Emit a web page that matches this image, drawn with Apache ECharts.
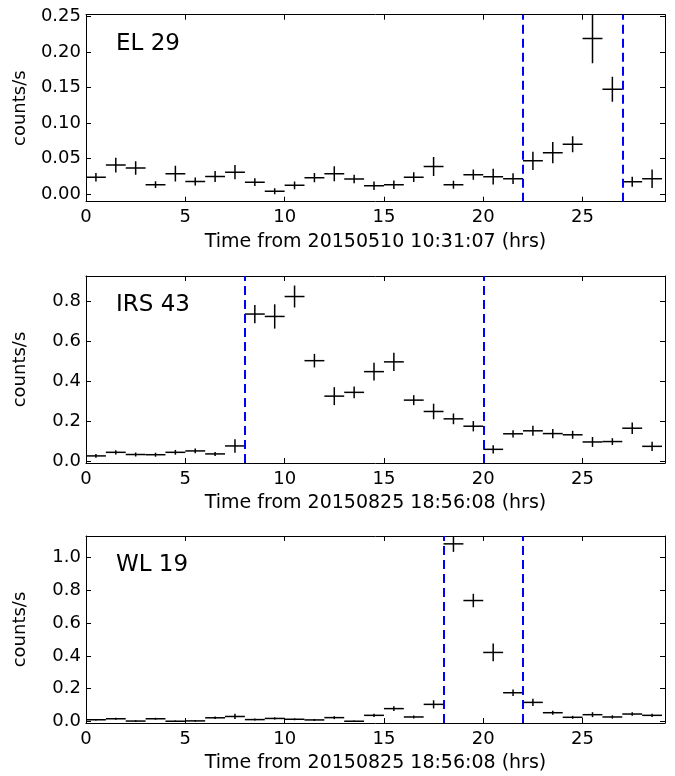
<!DOCTYPE html>
<html><head><meta charset="utf-8">
<script src="https://cdn.jsdelivr.net/npm/echarts@6/dist/echarts.min.js"></script>
<style>html,body{margin:0;padding:0;background:#fff}#c{width:675px;height:776px}</style>
</head><body><div id="c"></div>
<script>
// ---- data ----
const binCenters = [0.5,1.5,2.5,3.5,4.5,5.5,6.5,7.5,8.5,9.5,10.5,11.5,12.5,13.5,14.5,15.5,16.5,17.5,18.5,19.5,20.5,21.5,22.5,23.5,24.5,25.5,26.5,27.5,28.5];
const binHalfWidth = 0.5;

const el29Rate = [0.024,0.041,0.037,0.0135,0.029,0.018,0.025,0.031,0.017,0.0042,0.0126,0.0234,0.029,0.0215,0.012,0.0135,0.024,0.039,0.0135,0.0276,0.0248,0.022,0.047,0.0585,0.0702,0.219,0.1475,0.0177,0.022];
const el29Err  = [0.006,0.0105,0.0094,0.0047,0.011,0.0056,0.0077,0.010,0.0054,0.0042,0.0054,0.0066,0.0105,0.0059,0.0059,0.006,0.0068,0.0133,0.0056,0.0073,0.011,0.0075,0.0129,0.015,0.0112,0.035,0.0176,0.007,0.013];

const irs43Rate = [0.026,0.044,0.033,0.032,0.044,0.051,0.036,0.076,0.738,0.726,0.826,0.504,0.326,0.345,0.449,0.498,0.306,0.249,0.212,0.175,0.059,0.137,0.152,0.138,0.132,0.096,0.098,0.165,0.074];
const irs43Err  = [0.009,0.011,0.010,0.010,0.012,0.012,0.010,0.034,0.046,0.061,0.055,0.034,0.045,0.029,0.044,0.046,0.025,0.039,0.027,0.026,0.021,0.018,0.025,0.023,0.020,0.025,0.017,0.029,0.023];

const wl19Rate = [0.010,0.016,0.002,0.016,0.001,0.003,0.022,0.030,0.011,0.018,0.013,0.009,0.023,0.001,0.037,0.078,0.027,0.104,1.084,0.738,0.421,0.175,0.116,0.053,0.025,0.041,0.027,0.045,0.037];
const wl19Err  = [0.005,0.006,0.005,0.006,0.005,0.005,0.008,0.016,0.006,0.007,0.006,0.006,0.009,0.005,0.010,0.015,0.009,0.025,0.049,0.041,0.054,0.020,0.022,0.012,0.009,0.015,0.010,0.011,0.010];

const panelNames = ['EL 29','IRS 43','WL 19'];
const xTitles = ['Time from 20150510 10:31:07 (hrs)','Time from 20150825 18:56:08 (hrs)','Time from 20150825 18:56:08 (hrs)'];
const flareMarks = [[22,27],[8,20],[18,22]];
const xTicks = [0,5,10,15,20,25];
const el29YTicks = [0,0.05,0.10,0.15,0.20,0.25];
const irs43YTicks = [0,0.2,0.4,0.6,0.8];
const wl19YTicks = [0,0.2,0.4,0.6,0.8,1.0];
const xRange = [0,29.15];
const yRanges = [[-0.0104,0.2523],[-0.0096,0.929],[-0.0098,1.132]];

// ---- layout ----
const FONT = 'DejaVu Sans';
const gridLeft = 86, gridWidth = 579, gridHeight = 187;
const gridTops = [14.7, 276, 536];

const rates = [el29Rate, irs43Rate, wl19Rate];
const errs = [el29Err, irs43Err, wl19Err];
const yTicks = [el29YTicks, irs43YTicks, wl19YTicks];
const yDigits = [2,1,1];

function renderItem(params, api){
  const x = api.value(0), y = api.value(1), e = api.value(2);
  const l = api.coord([x - binHalfWidth, y]);
  const r = api.coord([x + binHalfWidth, y]);
  const t = api.coord([x, y + e]);
  const b = api.coord([x, y - e]);
  const st = {stroke:'#000', lineWidth:1.5};
  return {type:'group', children:[
    {type:'line', shape:{x1:l[0],y1:l[1],x2:r[0],y2:r[1]}, style:st},
    {type:'line', shape:{x1:t[0],y1:t[1],x2:b[0],y2:b[1]}, style:st}
  ]};
}

const grid=[], xAxis=[], yAxis=[], series=[], graphic=[];
const axisLine = {show:true, onZero:false, lineStyle:{color:'#000', width:1}};
for (let i=0;i<3;i++){
  grid.push({left:gridLeft, top:gridTops[i], width:gridWidth, height:gridHeight});
  const tickX = {show:true, inside:true, length:5, lineStyle:{color:'#000', width:1}, customValues:xTicks};
  const tickY = {show:true, inside:true, length:5, lineStyle:{color:'#000', width:1}, customValues:yTicks[i]};
  xAxis.push({type:'value', gridIndex:i, position:'bottom', min:xRange[0], max:xRange[1],
    axisLine, axisTick:tickX, splitLine:{show:false},
    axisLabel:{customValues:xTicks, color:'#000', fontSize:18, fontFamily:FONT, margin:7, formatter:v=>String(v)},
    name:xTitles[i], nameLocation:'middle', nameGap:31,
    nameTextStyle:{color:'#000', fontSize:19, fontFamily:FONT}});
  xAxis.push({type:'value', gridIndex:i, position:'top', min:xRange[0], max:xRange[1],
    axisLine, axisTick:tickX, splitLine:{show:false}, axisLabel:{show:false}});
  yAxis.push({type:'value', gridIndex:i, position:'left', min:yRanges[i][0], max:yRanges[i][1],
    axisLine, axisTick:tickY, splitLine:{show:false},
    axisLabel:{customValues:yTicks[i], color:'#000', fontSize:18, fontFamily:FONT, margin:5,
      formatter:(function(d){return v=>Number(v).toFixed(d);})(yDigits[i])},
    name:'counts/s', nameLocation:'middle', nameGap:57,
    nameTextStyle:{color:'#000', fontSize:18, fontFamily:FONT}});
  yAxis.push({type:'value', gridIndex:i, position:'right', min:yRanges[i][0], max:yRanges[i][1],
    axisLine, axisTick:tickY, splitLine:{show:false}, axisLabel:{show:false}});
  const data = binCenters.map((x,k)=>[x, rates[i][k], errs[i][k]]);
  series.push({type:'custom', xAxisIndex:2*i, yAxisIndex:2*i, renderItem, data, clip:true,
    encode:{x:0, y:1}, silent:true, z:3});
  series.push({type:'line', xAxisIndex:2*i, yAxisIndex:2*i, data:[], silent:true, z:2,
    markLine:{silent:true, symbol:['none','none'], label:{show:false}, animation:false,
      lineStyle:{color:'#0000ff', width:2, type:[9,5]},
      data:flareMarks[i].map(v=>({xAxis:v}))}});
  graphic.push({type:'text', left:116, top:gridTops[i]+17.5,
    style:{text:panelNames[i], fill:'#000', font:'23px "DejaVu Sans"'}});
}

const chart = echarts.init(document.getElementById('c'), null, {renderer:'canvas'});
chart.setOption({animation:false, backgroundColor:'#fff', grid, xAxis, yAxis, series, graphic});
</script>
</body></html>
